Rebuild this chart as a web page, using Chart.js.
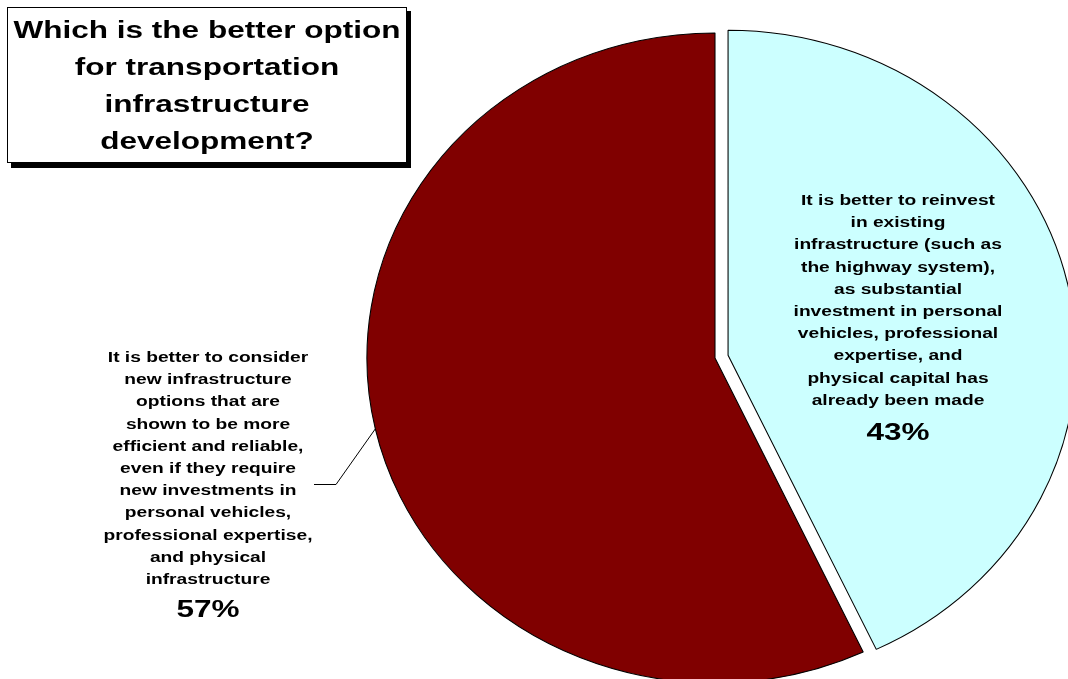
<!DOCTYPE html>
<html>
<head>
<meta charset="utf-8">
<script src="https://cdn.jsdelivr.net/npm/chart.js@4/dist/chart.umd.min.js"></script>
<style>
    body { margin: 0; background: #fff; }
    canvas { display: block; }
</style>
</head>
<body>
<canvas id="pieChart" width="1068" height="679"></canvas>
<script>
// 차트 데이터
const titleLines = ['Which is the better option', 'for transportation', 'infrastructure', 'development?'];
const categories = [
    'It is better to reinvest in existing infrastructure',
    'It is better to consider new infrastructure options'
];
const shares = [43, 57];
const sliceColors = ['#CCFFFF', '#800000'];
const explode = [12.5, 0];
const labelLines = [
    ['It is better to reinvest', 'in existing', 'infrastructure (such as', 'the highway system),',
     'as substantial', 'investment in personal', 'vehicles, professional', 'expertise, and',
     'physical capital has', 'already been made'],
    ['It is better to consider', 'new infrastructure', 'options that are', 'shown to be more',
     'efficient and reliable,', 'even if they require', 'new investments in', 'personal vehicles,',
     'professional expertise,', 'and physical', 'infrastructure']
];

// 원본 이미지는 가로로 늘어나 있음
const PIE_STRETCH = 1.071;
const TEXT_STRETCH = 1.37;
const FONT = '"Liberation Sans", Arial, sans-serif';

function stretchedText(ctx, text, x, y, size) {
    ctx.save();
    ctx.font = 'bold ' + size + 'px ' + FONT;
    ctx.textAlign = 'center';
    ctx.textBaseline = 'alphabetic';
    ctx.translate(x, y);
    ctx.scale(TEXT_STRETCH, 1);
    ctx.fillText(text, 0, 0);
    ctx.restore();
}

// 파이를 타원으로 그리기 + 조각 분리 (반지름은 그대로 유지)
const ellipsePlugin = {
    id: 'ellipse',
    afterUpdate(chart) {
        chart.getDatasetMeta(0).data.forEach((arc, i) => {
            if (arc._exploded || !explode[i]) return;
            const baseDraw = arc.draw;
            arc.draw = function(ctx, area) {
                const mid = (this.startAngle + this.endAngle) / 2;
                ctx.save();
                ctx.translate(Math.cos(mid) * explode[i], Math.sin(mid) * explode[i]);
                baseDraw.call(this, ctx, area);
                ctx.restore();
            };
            arc._exploded = true;
        });
    },
    beforeDatasetsDraw(chart) {
        const arc = chart.getDatasetMeta(0).data[0];
        const ctx = chart.ctx;
        ctx.save();
        ctx.translate(arc.x, 0);
        ctx.scale(PIE_STRETCH, 1);
        ctx.translate(-arc.x, 0);
    },
    afterDatasetsDraw(chart) {
        chart.ctx.restore();
    }
};

// 제목 상자, 라벨, 지시선
const annotatePlugin = {
    id: 'annotate',
    afterDraw(chart) {
        const ctx = chart.ctx;
        ctx.save();

        // 제목 상자 (그림자 포함)
        ctx.fillStyle = '#000';
        ctx.fillRect(11, 11, 400, 157);
        ctx.fillStyle = '#fff';
        ctx.fillRect(7, 7, 400, 156);
        ctx.strokeStyle = '#000';
        ctx.lineWidth = 1;
        ctx.strokeRect(7.5, 7.5, 399, 155);
        ctx.fillStyle = '#000';
        titleLines.forEach((line, i) => stretchedText(ctx, line, 207, 38 + i * 37, 23));

        // 슬라이스 라벨
        const labelPos = [{ x: 898, y: 205, pct: 440 }, { x: 208, y: 362, pct: 617 }];
        labelLines.forEach((lines, s) => {
            const p = labelPos[s];
            lines.forEach((line, i) => stretchedText(ctx, line, p.x, p.y + i * 22.2, 14));
            stretchedText(ctx, shares[s] + '%', p.x, p.pct, 23);
        });

        // 지시선 (57% 슬라이스 중앙 각도)
        const arc = chart.getDatasetMeta(0).data[1];
        const mid = (arc.startAngle + arc.endAngle) / 2;
        const ex = arc.x + Math.cos(mid) * arc.outerRadius * PIE_STRETCH;
        const ey = arc.y + Math.sin(mid) * arc.outerRadius;
        ctx.beginPath();
        ctx.moveTo(314, 484.5);
        ctx.lineTo(336, 484.5);
        ctx.lineTo(ex, ey);
        ctx.strokeStyle = '#000';
        ctx.lineWidth = 1;
        ctx.stroke();

        ctx.restore();
    }
};

const ctx = document.getElementById('pieChart').getContext('2d');
const pieChart = new Chart(ctx, {
    type: 'pie',
    data: {
        labels: categories,
        datasets: [{
            data: shares,
            backgroundColor: sliceColors,
            borderColor: '#000',
            borderWidth: 1
        }]
    },
    options: {
        responsive: false,
        animation: false,
        radius: 325,
        layout: {
            padding: { left: 362, right: 0, top: 37, bottom: 0 }
        },
        plugins: {
            legend: { display: false },
            tooltip: { enabled: false },
            title: { display: false }
        }
    },
    plugins: [ellipsePlugin, annotatePlugin]
});
</script>
</body>
</html>
